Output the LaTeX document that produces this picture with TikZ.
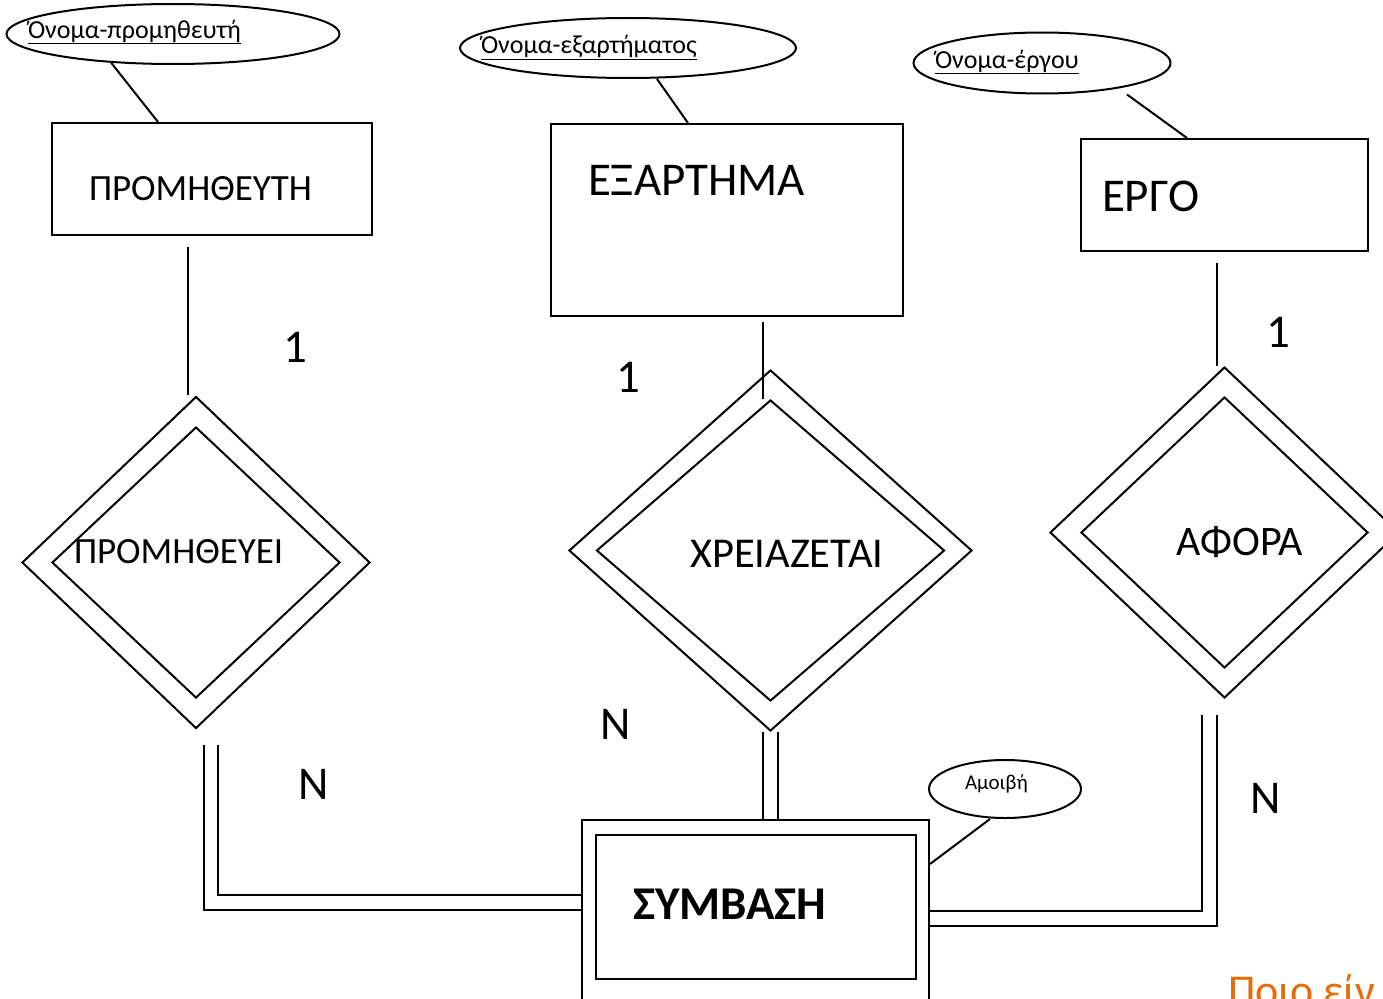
\documentclass[tikz,border=0pt]{standalone}
\usepackage{fontspec}
\setmainfont{Carlito}
\usepackage{tikz}
\usetikzlibrary{shapes.geometric, positioning, calc}

\definecolor{slideorange}{RGB}{228,108,10}
\newcommand{\fsz}[1]{\fontsize{#1}{#1}\selectfont}

\begin{document}
\begin{tikzpicture}[
  x=1pt, y=-1pt, line width=2pt,
  entity/.style={rectangle, draw=black, inner sep=0pt},
  rel/.style={diamond, draw=black, inner sep=0pt},
  attr/.style={ellipse, draw=black, inner sep=0pt},
  lbl/.style={anchor=base west, inner sep=0pt},
  card/.style={anchor=base, inner sep=0pt, font=\fsz{47}}
]
\useasboundingbox (0,0) rectangle (1383,998);
\clip (0,0) rectangle (1383,998);

% attributes
\node[attr, minimum width=333, minimum height=60] (aPro)  at (173,34)  {};
\node[attr, minimum width=336, minimum height=60] (aPart) at (628,48)  {};
\node[attr, minimum width=257, minimum height=61] (aErg)  at (1042,63) {};
\node[attr, minimum width=152, minimum height=58] (aAmoi) at (1005,789) {};
\node[lbl, font=\fsz{26}] (aProT)  at (27,38)  {\underline{Όνομα-προμηθευτή}};
\node[lbl, font=\fsz{26}] (aPartT) at (480,54) {\underline{Όνομα-εξαρτήματος}};
\node[lbl, font=\fsz{26}] (aErgT)  at (934,68) {\underline{Όνομα-έργου}};
\node[lbl, font=\fsz{21}] (aAmoiT) at (964,789) {Αμοιβή};

% entities
\node[entity, minimum width=320, minimum height=112] (ePro)  at (212,179)    {};
\node[entity, minimum width=352, minimum height=192] (ePart) at (727,220)    {};
\node[entity, minimum width=287, minimum height=112] (eErg)  at (1224.5,195) {};
\node[entity, minimum width=347, minimum height=190] (symO)  at (755.5,915)  {};
\node[entity, minimum width=320, minimum height=144] (sym)   at (756,907)    {};
\node[lbl, font=\fsz{37}] (eProT)  at (88,200)   {ΠΡΟΜΗΘΕΥΤΗ};
\node[lbl, font=\fsz{47}] (ePartT) at (587,195)  {ΕΞΑΡΤΗΜΑ};
\node[lbl, font=\fsz{47}] (eErgT)  at (1101,211) {ΕΡΓΟ};
\node[lbl, font=\fsz{47}\bfseries] (symT) at (632,919) {ΣΥΜΒΑΣΗ};

% relationships
\node[rel, minimum width=348, minimum height=332] (rPro)    at (196,562.5) {};
\node[rel, minimum width=288, minimum height=271] (rProIn)  at (196,562.5) {};
\node[rel, minimum width=403, minimum height=361] (rPart)   at (770.5,550.5) {};
\node[rel, minimum width=348, minimum height=301] (rPartIn) at (770.5,550.5) {};
\node[rel, minimum width=349, minimum height=331] (rErg)    at (1224.5,532.5) {};
\node[rel, minimum width=287, minimum height=271] (rErgIn)  at (1224.5,532.5) {};
\node[lbl, font=\fsz{37}] (rProT)  at (73,563)   {ΠΡΟΜΗΘΕΥΕΙ};
\node[lbl, font=\fsz{42.5}] (rPartT) at (689,567)  {ΧΡΕΙΑΖΕΤΑΙ};
\node[lbl, font=\fsz{42}] (rErgT)  at (1175,555) {ΑΦΟΡΑ};

% attribute lines
\draw (aPro.205) -- (ePro.north -| 158,0);
\draw (aPart.south -| 657,0) -- (ePart.north -| 688,0);
\draw (aErg.south -| 1127,0) -- (eErg.north -| 1187,0);
\draw (aAmoi.south -| 990,0) -- (symO.east |- 0,864);

% single lines to the relationships
\draw[shorten <=11pt, shorten >=1pt] (ePro.south -| 188,0) -- (rPro.north -| 188,0);
\draw[shorten <=5pt] (ePart.south -| 763,0) -- (rPartIn.north -| 763,0);
\draw[shorten <=11pt] (eErg.south -| 1217,0) -- (rErg.north -| 1217,0);

% double lines to ΣΥΜΒΑΣΗ
\draw[shorten <=15pt] (rPro.south -| 204,0) |- (symO.west |- 0,910);
\draw[shorten <=15pt] (rPro.south -| 218,0) |- (symO.west |- 0,895);
\draw (rPart.south -| 763,0) -- (symO.north -| 763,0);
\draw (rPart.south -| 778,0) -- (symO.north -| 778,0);
\draw[shorten <=16pt] (rErg.south -| 1202,0) |- (symO.east |- 0,911);
\draw[shorten <=16pt] (rErg.south -| 1217,0) |- (symO.east |- 0,926);

% cardinalities
\node[card] (c1Pro)  at (295,362)  {1};
\node[card] (c1Part) at (628,392)  {1};
\node[card] (c1Erg)  at (1278,347) {1};
\node[card] (cNPro)  at (314,799)  {N};
\node[card] (cNPart) at (616,739)  {N};
\node[card] (cNErg)  at (1266,813) {N};

\node[lbl, font=\fsz{44}, text=slideorange] (qText) at (1227,1005) {Ποιο είν};
\end{tikzpicture}
\end{document}
